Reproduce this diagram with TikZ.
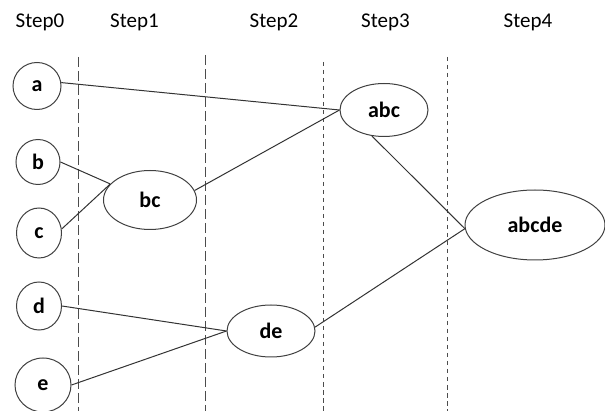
\documentclass[tikz,border=0pt]{standalone}
\usepackage{fontspec}
\setmainfont{Carlito}
\usepackage{tikz}
\usetikzlibrary{shapes.geometric}

\begin{document}
\begin{tikzpicture}[x=1pt,y=-1pt,
      every node/.style={inner sep=0pt},
      cluster/.style={ellipse,draw=black!75,line width=1pt,font=\fontsize{22}{24}\selectfont\bfseries},
      steplabel/.style={anchor=base,font=\fontsize{21}{24}\selectfont},
      link/.style={draw=black!80,line width=1pt},
      heavysep/.style={draw=black!70,line width=0.9pt,dash pattern=on 10pt off 4pt},
      lightsep/.style={draw=black!70,line width=0.9pt,dash pattern=on 4.5pt off 3.5pt}]

      \useasboundingbox (0,0) rectangle (605,411);

      % step headings
      \node[steplabel] (h0) at (40,28) {Step0};
      \node[steplabel] (h1) at (134.5,28) {Step1};
      \node[steplabel] (h2) at (274,28) {Step2};
      \node[steplabel] (h3) at (385.5,28) {Step3};
      \node[steplabel] (h4) at (528,28) {Step4};

      % separators between the steps
      \coordinate (s1t) at (78,57);   \coordinate (s1b) at (78,411);
      \coordinate (s2t) at (205,55);  \coordinate (s2b) at (205,411);
      \coordinate (s3t) at (323,62);  \coordinate (s3b) at (323,411);
      \coordinate (s4t) at (447,57);  \coordinate (s4b) at (447,411);
      \draw[heavysep] (s1t) -- (s1b);
      \draw[heavysep] (s2t) -- (s2b);
      \draw[lightsep] (s3t) -- (s3b);
      \draw[lightsep] (s4t) -- (s4b);

      % single objects
      \node[cluster,minimum width=48pt,minimum height=47pt] (a) at (37,86) {a};
      \node[cluster,minimum width=44pt,minimum height=45pt] (b) at (38,162) {b};
      \node[cluster,minimum width=45pt,minimum height=50pt] (c) at (39,233) {c};
      \node[cluster,minimum width=45pt,minimum height=48pt] (d) at (39,306) {d};
      \node[cluster,minimum width=56pt,minimum height=54pt] (e) at (43,385) {e};

      % merged clusters
      \node[cluster,minimum width=93pt,minimum height=59pt] (bc) at (150,200) {bc};
      \node[cluster,minimum width=88pt,minimum height=52pt] (de) at (271,331) {de};
      \node[cluster,minimum width=88pt,minimum height=53pt] (abc) at (384,110) {abc};
      \node[cluster,minimum width=140pt,minimum height=70pt] (abcde) at (535,225) {abcde};

      \draw[link] (b.east) -- (bc.158);
      \draw[link] (c.10) -- (bc.158);
      \draw[link] (d.east) -- (de.west);
      \draw[link] (e.east) -- (de.west);
      \draw[link] (a.8) -- (abc.west);
      \draw[link] (bc.12) -- (abc.west);
      \draw[link] (abc.245) -- (abcde.183);
      \draw[link] (de.5) -- (abcde.183);
\end{tikzpicture}
\end{document}
